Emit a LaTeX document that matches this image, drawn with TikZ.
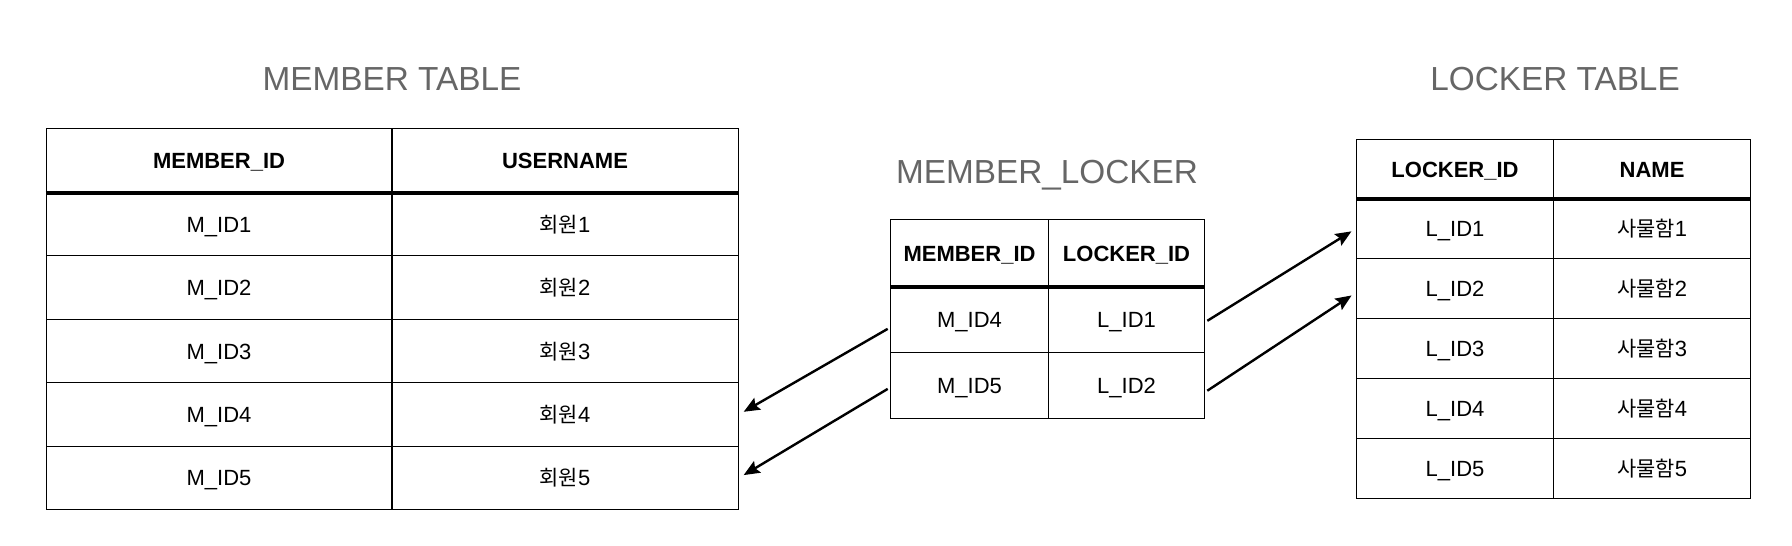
\documentclass[tikz,border=0pt]{standalone}
\usepackage{fontspec}
\setmainfont{Liberation Sans}
\newfontfamily\krfont[Scale=0.95]{Noto Sans CJK KR}
\usetikzlibrary{arrows.meta}
\definecolor{titlegray}{HTML}{666666}
\def\px{0.75pt}

\begin{document}
\begin{tikzpicture}[x=0.75pt, y=-0.75pt,
    cell/.style={draw, line width=0.8pt, anchor=north west, inner sep=0pt,
      text height=12pt, text depth=0pt, font=\fontsize{16.5}{19}\selectfont},
    headcell/.style={cell, font=\fontsize{16.5}{19}\selectfont\bfseries},
    tabletitle/.style={text=titlegray, font=\fontsize{25}{30}\selectfont},
    link/.style={-{Stealth[length=12pt,width=10pt,inset=2pt]}, line width=1.8pt,
      shorten >=4pt, shorten <=2pt}]
  \useasboundingbox (0,0) rectangle (1792,546);

  % titles
  \node[tabletitle] (mtitle) at (392,79) {MEMBER TABLE};
  \node[tabletitle] (ltitle) at (1555,79) {LOCKER TABLE};
  \node[tabletitle] (mltitle) at (1047,175) {MEMBER\_LOCKER};

  % member table
  \node[headcell, minimum width=346*\px, minimum height=64*\px] (mh1) at (45.5,128) {MEMBER\_ID};
  \node[headcell, minimum width=347*\px, minimum height=64*\px] (mh2) at (391,128) {USERNAME};
  \foreach \i in {1,...,5} {
    \node[cell, minimum width=346*\px, minimum height=63.4*\px] (m-\i-1) at (45.5,{192+63.4*(\i-1)}) {M\_ID\i};
    \node[cell, minimum width=347*\px, minimum height=63.4*\px] (m-\i-2) at (391,{192+63.4*(\i-1)}) {{\krfont 회원}\i};
  }
  \draw[line width=3pt] (mh1.south west) -- (mh2.south east);

  % member_locker
  \node[headcell, minimum width=158*\px, minimum height=67*\px] (mlh1) at (890,219) {MEMBER\_ID};
  \node[headcell, minimum width=156*\px, minimum height=67*\px] (mlh2) at (1048,219) {LOCKER\_ID};
  \node[cell, minimum width=158*\px, minimum height=66*\px] (ml-1-1) at (890,286) {M\_ID4};
  \node[cell, minimum width=156*\px, minimum height=66*\px] (ml-1-2) at (1048,286) {L\_ID1};
  \node[cell, minimum width=158*\px, minimum height=66*\px] (ml-2-1) at (890,352) {M\_ID5};
  \node[cell, minimum width=156*\px, minimum height=66*\px] (ml-2-2) at (1048,352) {L\_ID2};
  \draw[line width=3pt] (mlh1.south west) -- (mlh2.south east);

  % locker table
  \node[headcell, minimum width=197*\px, minimum height=59*\px] (lh1) at (1356,139) {LOCKER\_ID};
  \node[headcell, minimum width=197*\px, minimum height=59*\px] (lh2) at (1553,139) {NAME};
  \foreach \i in {1,...,5} {
    \node[cell, minimum width=197*\px, minimum height=60*\px] (l-\i-1) at (1356,{198+60*(\i-1)}) {L\_ID\i};
    \node[cell, minimum width=197*\px, minimum height=60*\px] (l-\i-2) at (1553,{198+60*(\i-1)}) {{\krfont 사물함}\i};
  }
  \draw[line width=3pt] (lh1.south west) -- (lh2.south east);

  % links
  \draw[link] ([yshift=-6pt]ml-1-1.west) -- (m-4-2.east);
  \draw[link] ([yshift=-1.5pt]ml-2-1.west) -- (m-5-2.east);
  \draw[link] ([yshift=-2pt]ml-1-2.east) -- (l-1-1.west);
  \draw[link] ([yshift=-5pt]ml-2-2.east) -- ([yshift=-3pt]l-2-1.west);
\end{tikzpicture}
\end{document}
